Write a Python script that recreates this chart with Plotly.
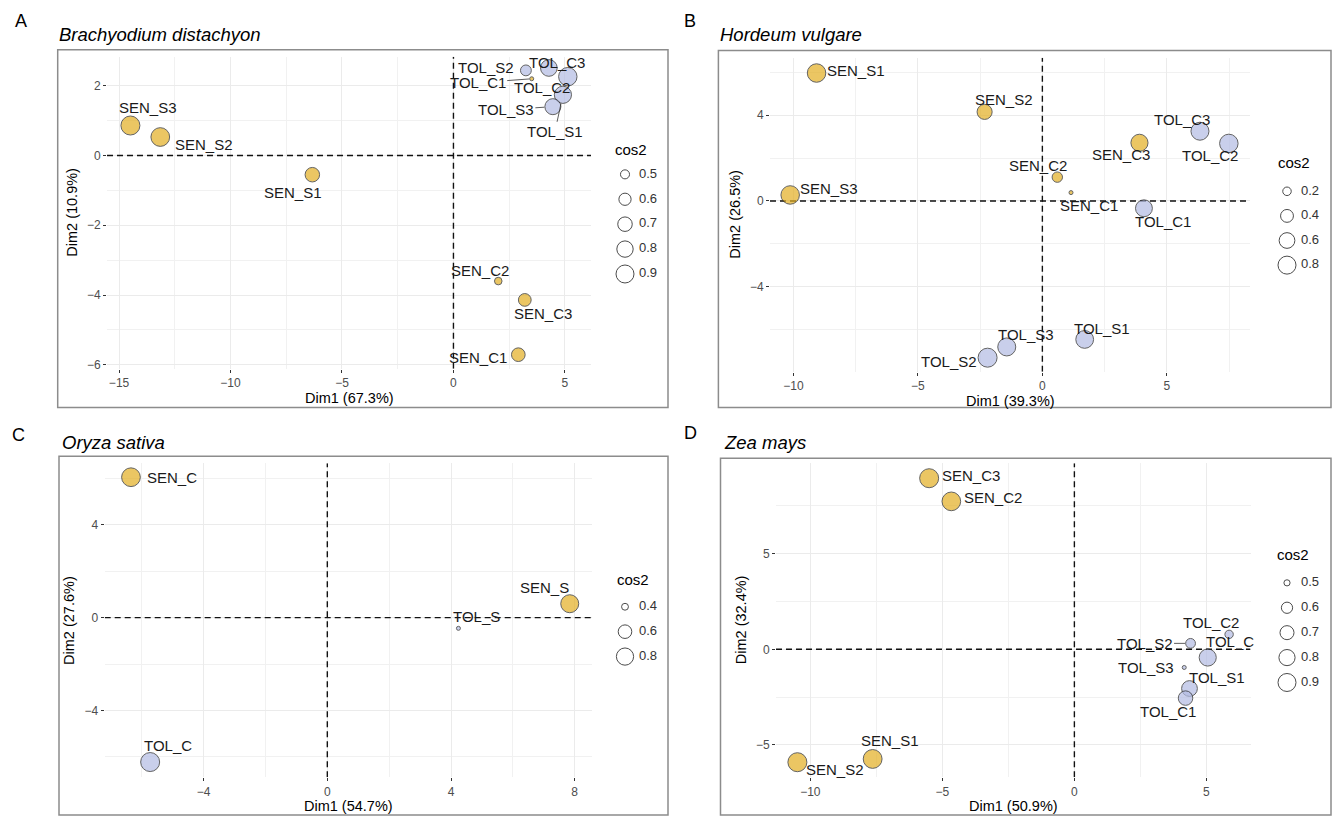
import math
import plotly.graph_objects as go

W, H = 1335, 816
SEN_COL = "#E3AF22"
TOL_COL = "#B3BCE3"
FONT = "Liberation Sans, Arial, sans-serif"

# ---------------- data ----------------
# Panel A - Brachyodium distachyon
a_names = ["SEN_S3", "SEN_S2", "SEN_S1", "SEN_C2", "SEN_C3", "SEN_C1",
           "TOL_S2", "TOL_C1", "TOL_C3", "TOL_C2", "TOL_S1", "TOL_S3"]
a_dim1 = [-14.49, -13.15, -6.33, 2.01, 3.20, 2.91, 3.25, 3.51, 4.28, 5.13, 4.91, 4.46]
a_dim2 = [0.86, 0.53, -0.55, -3.60, -4.14, -5.71, 2.44, 2.20, 2.51, 2.26, 1.74, 1.40]
a_cos2 = [0.97, 0.95, 0.70, 0.47, 0.62, 0.66, 0.55, 0.44, 0.82, 0.93, 0.85, 0.78]
a_group = ["SEN", "SEN", "SEN", "SEN", "SEN", "SEN", "TOL", "SEN", "TOL", "TOL", "TOL", "TOL"]
a_breaks = [0.5, 0.6, 0.7, 0.8, 0.9]

# Panel B - Hordeum vulgare
b_names = ["SEN_S1", "SEN_S2", "SEN_S3", "SEN_C3", "SEN_C2", "SEN_C1",
           "TOL_C3", "TOL_C2", "TOL_C1", "TOL_S1", "TOL_S3", "TOL_S2"]
b_dim1 = [-9.07, -2.32, -10.13, 3.90, 0.60, 1.15, 6.33, 7.49, 4.08, 1.70, -1.43, -2.20]
b_dim2 = [5.96, 4.15, 0.28, 2.71, 1.11, 0.39, 3.25, 2.68, -0.34, -6.45, -6.80, -7.30]
b_cos2 = [0.85, 0.55, 0.85, 0.72, 0.27, 0.13, 0.80, 0.85, 0.70, 0.78, 0.80, 0.90]
b_group = ["SEN"] * 6 + ["TOL"] * 6
b_breaks = [0.2, 0.4, 0.6, 0.8]

# Panel C - Oryza sativa
c_names = ["SEN_C", "TOL_C", "SEN_S", "TOL_S"]
c_dim1 = [-6.35, -5.73, 7.84, 4.24]
c_dim2 = [6.05, -6.22, 0.60, -0.46]
c_cos2 = [0.90, 0.92, 0.85, 0.38]
c_group = ["SEN", "TOL", "SEN", "TOL"]
c_breaks = [0.4, 0.6, 0.8]

# Panel D - Zea mays
d_names = ["SEN_C3", "SEN_C2", "SEN_S1", "SEN_S2", "TOL_C2", "TOL_S2",
           "TOL_C", "TOL_S3", "TOL_S1", "TOL_C1"]
d_dim1 = [-5.50, -4.66, -7.64, -10.49, 5.86, 4.40, 5.05, 4.16, 4.36, 4.21]
d_dim2 = [8.94, 7.73, -5.73, -5.90, 0.78, 0.31, -0.43, -0.95, -2.05, -2.55]
d_cos2 = [0.96, 0.94, 0.95, 0.96, 0.53, 0.56, 0.85, 0.49, 0.78, 0.72]
d_group = ["SEN"] * 4 + ["TOL"] * 6
d_breaks = [0.5, 0.6, 0.7, 0.8, 0.9]

# ---------------- layout / style ----------------
# label placement: (dx px, dy px, draw segment)
a_lab = [(18, -18, 0), (44, 7, 0), (-19, 18, 0), (-18, -11, 0), (18, 14, 0), (-40, 3, 0),
         (-40, -3, 0), (-54, 4, 1), (8, -5, 0), (-26, 11, 1), (-8, 37, 1), (-47, 3, 1)]
b_lab = [(39, -3, 0), (19, -12, 0), (39, -6, 0), (-18, 12, 0), (-19, -12, 0), (18, 13, 0),
         (-18, -12, 0), (-19, 12, 0), (19, 13, 0), (17, -11, 0), (19, -12, 0), (-39, 4, 0)]
c_lab = [(41, 0, 0), (18, -17, 0), (-25, -16, 0), (18, -12, 0)]
d_lab = [(42, -3, 0), (42, -4, 0), (17, -18, 0), (38, 7, 0), (-18, -12, 0), (-46, 0, 1),
         (22, -16, 0), (-38, 0, 0), (27, -11, 0), (-18, 13, 0)]

panels = [
    dict(letter="A", title="Brachyodium distachyon", names=a_names, x=a_dim1, y=a_dim2,
         cos2=a_cos2, grp=a_group, lab=a_lab, breaks=a_breaks,
         xlab="Dim1 (67.3%)", ylab="Dim2 (10.9%)",
         plot=(107, 57, 591, 370), xr=(-15.54, 6.17), yr=(-6.11, 2.83),
         xd=5, xm=2.5, yd=2, ym=1,
         box=(57.7, 50, 668, 409), letter_pos=(21, 21), title_pos=(57, 35),
         leg=(625, 175, 25), leg_title=(613, 150)),
    dict(letter="B", title="Hordeum vulgare", names=b_names, x=b_dim1, y=b_dim2,
         cos2=b_cos2, grp=b_group, lab=b_lab, breaks=b_breaks,
         xlab="Dim1 (39.3%)", ylab="Dim2 (26.5%)",
         plot=(770, 58, 1250, 373), xr=(-10.94, 8.34), yr=(-7.95, 6.67),
         xd=5, xm=2.5, yd=4, ym=2,
         box=(718.4, 50.7, 1331, 409), letter_pos=(690, 21), title_pos=(718, 35),
         leg=(1287, 192, 24.7), leg_title=(1276, 163)),
    dict(letter="C", title="Oryza sativa", names=c_names, x=c_dim1, y=c_dim2,
         cos2=c_cos2, grp=c_group, lab=c_lab, breaks=c_breaks,
         xlab="Dim1 (54.7%)", ylab="Dim2 (27.6%)",
         plot=(104.7, 465, 592, 780), xr=(-7.2, 8.56), yr=(-6.87, 6.65),
         xd=4, xm=2, yd=4, ym=2,
         box=(59, 458, 668, 818), letter_pos=(18, 437), title_pos=(60, 444),
         leg=(625, 609, 25), leg_title=(615, 582)),
    dict(letter="D", title="Zea mays", names=d_names, x=d_dim1, y=d_dim2,
         cos2=d_cos2, grp=d_group, lab=d_lab, breaks=d_breaks,
         xlab="Dim1 (50.9%)", ylab="Dim2 (32.4%)",
         plot=(776, 465, 1250.5, 780), xr=(-11.3, 6.67), yr=(-6.68, 9.72),
         xd=5, xm=2.5, yd=5, ym=2.5,
         box=(720.5, 460, 1331, 818), letter_pos=(690, 435), title_pos=(722, 444),
         leg=(1287, 585, 25), leg_title=(1275, 557)),
]

D_MIN, D_MAX = 4.0, 19.0
LAB_SIZE = 15


def diam(c, cmin, cmax):
    return D_MIN + (D_MAX - D_MIN) * math.sqrt(max(c - cmin, 0) / (cmax - cmin))


def px_x(x):
    return x / W


def px_y(y):
    return 1 - y / H


def paper_text(x, y, text, size, xanchor="center", angle=0, color="black"):
    return dict(x=px_x(x), y=px_y(y), xref="paper", yref="paper", text=text,
                showarrow=False, xanchor=xanchor, yanchor="middle", textangle=angle,
                font=dict(family=FONT, size=size, color=color))


fig = go.Figure()
layout = dict(width=W, height=H, margin=dict(l=0, r=0, t=0, b=0),
              paper_bgcolor="white", plot_bgcolor="white", showlegend=False,
              font=dict(family=FONT, color="black"))
annotations = []
shapes = []
DASH = dict(color="#111111", width=1.4, dash="6px,4px")

for i, p in enumerate(panels):
    k = i + 1
    xa, ya = f"x{k}" if k > 1 else "x", f"y{k}" if k > 1 else "y"
    xkey, ykey = f"xaxis{k}" if k > 1 else "xaxis", f"yaxis{k}" if k > 1 else "yaxis"
    x0, y0, x1, y1 = p["plot"]
    common = dict(showgrid=True, gridcolor="#ebebeb", gridwidth=1, zeroline=False,
                  showline=False, ticks="outside", ticklen=3, tickwidth=1, tickcolor="#333333",
                  tickfont=dict(family=FONT, size=12, color="#4d4d4d"), fixedrange=True, tick0=0)
    layout[xkey] = dict(common, domain=[px_x(x0), px_x(x1)], range=list(p["xr"]), dtick=p["xd"],
                        anchor=ya,
                        minor=dict(dtick=p["xm"], tick0=0, showgrid=True, gridcolor="#f1f1f1",
                                   gridwidth=0.7, ticks=""))
    layout[ykey] = dict(common, domain=[px_y(y1), px_y(y0)], range=list(p["yr"]), dtick=p["yd"],
                        anchor=xa,
                        minor=dict(dtick=p["ym"], tick0=0, showgrid=True, gridcolor="#f1f1f1",
                                   gridwidth=0.7, ticks=""))
    cmin, cmax = min(p["cos2"]), max(p["cos2"])
    sizes = [diam(c, cmin, cmax) for c in p["cos2"]]
    cols = [SEN_COL if g == "SEN" else TOL_COL for g in p["grp"]]
    # dashed reference lines at 0 (drawn under the points)
    fig.add_trace(go.Scatter(x=[0, 0], y=list(p["yr"]), mode="lines", xaxis=xa, yaxis=ya,
                             line=DASH, hoverinfo="skip"))
    fig.add_trace(go.Scatter(x=list(p["xr"]), y=[0, 0], mode="lines", xaxis=xa, yaxis=ya,
                             line=DASH, hoverinfo="skip"))
    fig.add_trace(go.Scatter(x=p["x"], y=p["y"], mode="markers", xaxis=xa, yaxis=ya,
                             cliponaxis=False, hoverinfo="text", text=p["names"],
                             marker=dict(size=sizes, color=cols,
                                         line=dict(color="#222222", width=1))))
    # point labels
    for n, x, y, s, (dx, dy, seg) in zip(p["names"], p["x"], p["y"], sizes, p["lab"]):
        if seg:
            annotations.append(dict(x=x, y=y, xref=xa, yref=ya, text=n, showarrow=True,
                                    arrowhead=0, arrowwidth=0.8, arrowcolor="#333333",
                                    ax=dx, ay=dy, standoff=s / 2 + 0.5,
                                    xanchor="center", yanchor="middle",
                                    font=dict(family=FONT, size=LAB_SIZE, color="#1a1a1a")))
        else:
            annotations.append(dict(x=x, y=y, xref=xa, yref=ya, text=n, showarrow=False,
                                    xshift=dx, yshift=-dy, xanchor="center", yanchor="middle",
                                    font=dict(family=FONT, size=LAB_SIZE, color="#1a1a1a")))
    # axis titles
    annotations.append(paper_text((x0 + x1) / 2, y1 + 29, p["xlab"], 14.5))
    annotations.append(paper_text(x0 - 35, (y0 + y1) / 2, p["ylab"], 14.5, angle=-90))
    # panel letter and title
    lx, ly = p["letter_pos"]
    annotations.append(paper_text(lx, ly, p["letter"], 18))
    tx, ty = p["title_pos"]
    annotations.append(paper_text(tx, ty, f"<i>{p['title']}</i>", 18.5, xanchor="left"))
    # box around panel
    bx0, by0, bx1, by1 = p["box"]
    shapes.append(dict(type="rect", xref="paper", yref="paper", x0=px_x(bx0), x1=px_x(bx1),
                       y0=px_y(by1), y1=px_y(by0), line=dict(color="#8c8c8c", width=1.5)))
    # size legend (cos2)
    lk = k + 4
    lxa, lya = f"x{lk}", f"y{lk}"
    cx, cy0, step = p["leg"]
    nb = len(p["breaks"])
    layout[f"xaxis{lk}"] = dict(domain=[px_x(cx - 15), px_x(cx + 45)], range=[0, 60],
                                visible=False, fixedrange=True, anchor=lya)
    layout[f"yaxis{lk}"] = dict(domain=[px_y(cy0 + (nb - 0.5) * step), px_y(cy0 - step / 2)],
                                range=[nb - 0.5, -0.5], visible=False, fixedrange=True, anchor=lxa)
    idx = list(range(nb))
    fig.add_trace(go.Scatter(x=[15] * nb, y=idx, mode="markers", xaxis=lxa, yaxis=lya,
                             cliponaxis=False, hoverinfo="skip",
                             marker=dict(size=[diam(b, cmin, cmax) for b in p["breaks"]],
                                         color="white", line=dict(color="black", width=1))))
    fig.add_trace(go.Scatter(x=[29] * nb, y=idx, mode="text", xaxis=lxa, yaxis=lya,
                             cliponaxis=False, hoverinfo="skip",
                             text=[f"{b:.1f}" for b in p["breaks"]], textposition="middle right",
                             textfont=dict(family=FONT, size=13, color="#333333")))
    ltx, lty = p["leg_title"]
    annotations.append(paper_text(ltx, lty, "cos2", 15, xanchor="left"))

layout["annotations"] = annotations
layout["shapes"] = shapes
fig.update_layout(**layout)
fig.write_html("out.html", config={"displayModeBar": False},
               post_script="document.body.style.margin='0';document.body.style.padding='0';")
